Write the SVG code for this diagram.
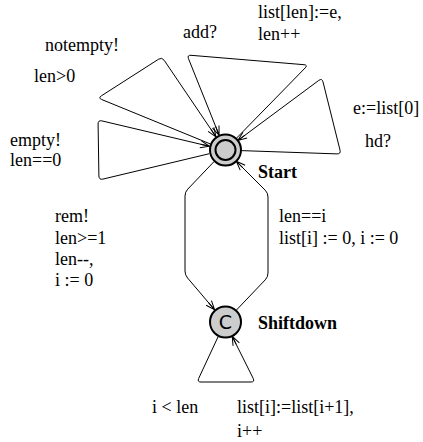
<svg xmlns="http://www.w3.org/2000/svg" width="423" height="442" viewBox="0 0 423 442">
<style>
text.t{font-family:'Liberation Serif','DejaVu Serif',serif;font-size:18px;fill:#000}
text.b{font-weight:bold}
.e{fill:none;stroke:#000;stroke-width:1}
.n{fill:#cccccc;stroke:#000;stroke-width:2}
</style>
<defs>
<marker id="ar" markerUnits="userSpaceOnUse" markerWidth="14" markerHeight="10" viewBox="-10 -5 12 10" refX="0" refY="0" orient="auto">
<path d="M-9,-3.5 L0,0 L-9,3.5 M-9,0 L0,0" fill="none" stroke="#000" stroke-width="1"/>
</marker>
</defs>
<rect width="423" height="442" fill="#fff"/>
<g id="connectors">
<path class="e" marker-end="url(#ar)" d="M210.2,143.9 L101.7,99.5 Q98,98 101.4,95.8 L158.6,59.2 Q162,57 164.2,60.3 L216,136.8"/>
<path class="e" marker-end="url(#ar)" d="M236.2,138.5 L305.2,67.9 Q308,65 304,64.7 L191,55.3 Q187,55 188.5,58.7 L219.1,135.1"/>
<path class="e" marker-end="url(#ar)" d="M241,150.6 L337,153.9 Q341,154 340,150.1 L323,81.9 Q322,78 318.8,80.4 L237.8,140.5"/>
<path class="e" marker-end="url(#ar)" d="M209.4,153.7 L102.9,179.1 Q99,180 98.9,176 L98.1,124 Q98,120 101.9,120.9 L209.4,146.3"/>
<path class="e" marker-end="url(#ar)" d="M214,161.6 L187.8,189.1 Q185,192 185,196 L185,271 Q185,275 187.6,278 L214.6,309.8"/>
<path class="e" marker-end="url(#ar)" d="M236.1,310.4 L265.2,279.9 Q268,277 268,273 L268,197 Q268,193 265.2,190.2 L236.3,161.3"/>
<path class="e" marker-end="url(#ar)" d="M218.2,336.5 L198.7,378.4 Q197,382 201,382 L251,382 Q255,382 253.2,378.4 L232.2,336.3"/>
</g>
<g id="labels" font-family="Liberation Serif, serif">
<text class="t" x="258" y="18">list[len]:=e,</text>
<text class="t" x="258" y="40">len++</text>
<text class="t" x="183" y="38">add?</text>
<text class="t" x="45" y="51">notempty!</text>
<text class="t" x="34" y="82">len&gt;0</text>
<text class="t" x="353" y="114">e:=list[0]</text>
<text class="t" x="365" y="147">hd?</text>
<text class="t" x="10" y="146">empty!</text>
<text class="t" x="10" y="166">len==0</text>
<text class="t" x="55" y="222">rem!</text>
<text class="t" x="55" y="244">len&gt;=1</text>
<text class="t" x="55" y="265">len--,</text>
<text class="t" x="55" y="286">i := 0</text>
<text class="t" x="279" y="222">len==i</text>
<text class="t" x="279" y="244">list[i] := 0, i := 0</text>
<text class="t" x="152" y="413">i &lt; len</text>
<text class="t" x="237" y="413">list[i]:=list[i+1],</text>
<text class="t" x="237" y="437">i++</text>
</g>
<g id="Start">
<circle class="n" cx="225.5" cy="150" r="15.5"/>
<circle cx="225.5" cy="150" r="10" fill="none" stroke="#000" stroke-width="2"/>
<text class="t b" x="258" y="178">Start</text>
</g>
<g id="Shiftdown">
<circle class="n" cx="225.5" cy="322" r="15.5"/>
<text x="225.5" y="329" text-anchor="middle" font-family="DejaVu Sans, sans-serif" font-size="19">C</text>
<text class="t b" x="258" y="329">Shiftdown</text>
</g>
</svg>
